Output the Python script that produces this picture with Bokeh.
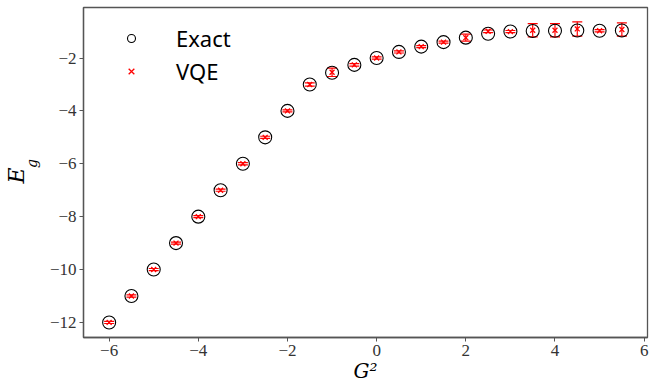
from bokeh.plotting import figure
from bokeh.models import Range1d, FixedTicker, Legend, LegendItem, ColumnDataSource, Title
from bokeh.embed import file_html
from bokeh.resources import INLINE

# ---- data ----
g2 = [-6.0, -5.5, -5.0, -4.5, -4.0, -3.5, -3.0, -2.5, -2.0, -1.5, -1.0, -0.5,
      0.0, 0.5, 1.0, 1.5, 2.0, 2.5, 3.0, 3.5, 4.0, 4.5, 5.0, 5.5]
exact = [-12.0, -11.0, -10.0, -9.0, -8.0, -7.0, -6.0, -5.0, -4.0, -3.0, -2.56, -2.26,
         -2.0, -1.77, -1.57, -1.40, -1.23, -1.08, -1.0, -0.98, -0.97, -0.96, -0.97, -0.96]
vqe = [-12.0, -11.0, -10.0, -9.0, -8.0, -7.0, -6.0, -5.0, -4.0, -3.0, -2.54, -2.26,
       -2.0, -1.77, -1.57, -1.40, -1.23, -0.99, -1.0, -0.95, -0.95, -0.90, -0.97, -0.92]
vqe_err = [0.04, 0.04, 0.04, 0.04, 0.04, 0.04, 0.04, 0.04, 0.04, 0.06, 0.16, 0.05,
           0.04, 0.04, 0.04, 0.04, 0.13, 0.05, 0.04, 0.25, 0.25, 0.27, 0.04, 0.25]
x_ticks = [-6, -4, -2, 0, 2, 4, 6]
x_tick_labels = ["\u22126", "\u22124", "\u22122", "0", "2", "4", "6"]
y_ticks = [-12, -10, -8, -6, -4, -2]
y_tick_labels = ["\u221212", "\u221210", "\u22128", "\u22126", "\u22124", "\u22122"]

upper = [v + e for v, e in zip(vqe, vqe_err)]
lower = [v - e for v, e in zip(vqe, vqe_err)]
src = ColumnDataSource(dict(x=g2, exact=exact, vqe=vqe, upper=upper, lower=lower))

p = figure(width=654, height=386, output_backend="svg", toolbar_location=None,
           x_range=Range1d(-6.575, 6.075), y_range=Range1d(-12.57, -0.09),
           min_border_left=83, min_border_right=7, min_border_top=7, min_border_bottom=49)
p.grid.visible = False
p.outline_line_color = "#555555"
p.outline_line_width = 1.3
p.background_fill_color = "white"
p.border_fill_color = "white"

p.xaxis.ticker = FixedTicker(ticks=x_ticks)
p.yaxis.ticker = FixedTicker(ticks=y_ticks)
p.xaxis.major_label_overrides = dict(zip(x_ticks, x_tick_labels))
p.yaxis.major_label_overrides = dict(zip(y_ticks, y_tick_labels))
for ax in (p.xaxis, p.yaxis):
    ax.axis_line_color = "#555555"
    ax.axis_line_width = 1.3
    ax.major_tick_line_color = "#555555"
    ax.major_tick_out = 4
    ax.major_tick_in = 0
    ax.minor_tick_line_color = None
    ax.major_label_text_font = "Liberation Serif"
    ax.major_label_text_font_size = "17px"
    ax.major_label_text_color = "#333333"
p.xaxis.major_label_standoff = 3
p.yaxis.major_label_standoff = 3

p.xaxis.axis_label = "G\u00b2"
p.xaxis.axis_label_text_font = "DejaVu Serif"
p.xaxis.axis_label_text_font_style = "italic"
p.xaxis.axis_label_text_font_size = "20px"
p.xaxis.axis_label_text_color = "black"
p.xaxis.axis_label_standoff = 0

# y-axis label E_g: subscript g as the axis label, E as a side title
p.yaxis.axis_label = "\u00a0\u00a0\u00a0\u00a0g"
p.yaxis.axis_label_text_font = "DejaVu Serif"
p.yaxis.axis_label_text_font_style = "italic"
p.yaxis.axis_label_text_font_size = "14px"
p.yaxis.axis_label_text_color = "black"
p.yaxis.axis_label_standoff = 7

# error bars
p.segment(x0="x", y0="lower", x1="x", y1="upper", source=src, line_color="red", line_width=1.2)
p.scatter(x="x", y="upper", source=src, marker="dash", size=10, line_color="red", line_width=1.2)
p.scatter(x="x", y="lower", source=src, marker="dash", size=10, line_color="red", line_width=1.2)

r_exact = p.scatter(x="x", y="exact", source=src, marker="circle", size=13,
                    fill_color=None, line_color="black", line_width=1.1)
r_vqe = p.scatter(x="x", y="vqe", source=src, marker="x", size=7,
                  line_color="red", line_width=1.3)

legend = Legend(items=[LegendItem(label="Exact", renderers=[r_exact]),
                       LegendItem(label="VQE", renderers=[r_vqe])],
                location=(38, 251), orientation="vertical",
                label_text_font="Noto Sans", label_text_font_size="22px",
                label_text_color="black",
                glyph_width=20, glyph_height=30, label_height=30, spacing=3,
                label_standoff=35, padding=0, margin=0,
                border_line_color=None, background_fill_alpha=0)
p.add_layout(legend)

p.add_layout(Title(text="E", align="left", offset=154, standoff=-17,
                   text_font="DejaVu Serif", text_font_style="italic",
                   text_font_size="22px", text_line_height=0.8, text_color="black"), "left")

open("out.html", "w").write(file_html(p, INLINE))
